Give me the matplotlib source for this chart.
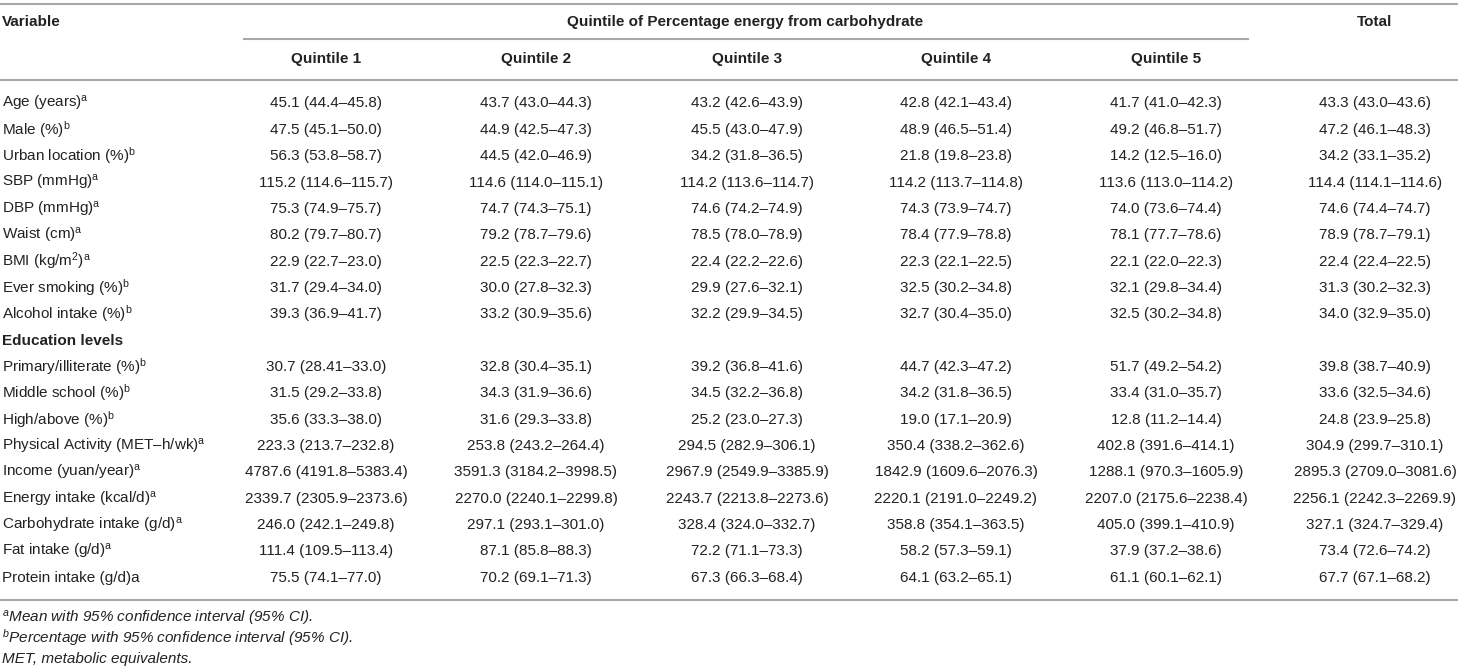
import matplotlib.pyplot as plt

plt.rcParams['font.family'] = ['Liberation Sans', 'DejaVu Sans']
plt.rcParams['mathtext.fontset'] = 'custom'
plt.rcParams['mathtext.rm'] = 'Liberation Sans'
plt.rcParams['mathtext.it'] = 'Liberation Sans:italic'
plt.rcParams['mathtext.bf'] = 'Liberation Sans:bold'

# Table content
variables = ["Age (years)", "Male (%)", "Urban location (%)", "SBP (mmHg)", "DBP (mmHg)",
             "Waist (cm)", r"BMI (kg/m$^{\mathrm{2}}$)", "Ever smoking (%)", "Alcohol intake (%)",
             "Education levels", "Primary/illiterate (%)", "Middle school (%)", "High/above (%)",
             "Physical Activity (MET\u2013h/wk)", "Income (yuan/year)", "Energy intake (kcal/d)",
             "Carbohydrate intake (g/d)", "Fat intake (g/d)", "Protein intake (g/d)a"]
marks = ["a", "b", "b", "a", "a", "a", "a", "b", "b", "", "b", "b", "b", "a", "a", "a", "a", "a", ""]

q1 = ["45.1 (44.4–45.8)", "47.5 (45.1–50.0)", "56.3 (53.8–58.7)", "115.2 (114.6–115.7)",
      "75.3 (74.9–75.7)", "80.2 (79.7–80.7)", "22.9 (22.7–23.0)", "31.7 (29.4–34.0)",
      "39.3 (36.9–41.7)", "", "30.7 (28.41–33.0)", "31.5 (29.2–33.8)", "35.6 (33.3–38.0)",
      "223.3 (213.7–232.8)", "4787.6 (4191.8–5383.4)", "2339.7 (2305.9–2373.6)",
      "246.0 (242.1–249.8)", "111.4 (109.5–113.4)", "75.5 (74.1–77.0)"]
q2 = ["43.7 (43.0–44.3)", "44.9 (42.5–47.3)", "44.5 (42.0–46.9)", "114.6 (114.0–115.1)",
      "74.7 (74.3–75.1)", "79.2 (78.7–79.6)", "22.5 (22.3–22.7)", "30.0 (27.8–32.3)",
      "33.2 (30.9–35.6)", "", "32.8 (30.4–35.1)", "34.3 (31.9–36.6)", "31.6 (29.3–33.8)",
      "253.8 (243.2–264.4)", "3591.3 (3184.2–3998.5)", "2270.0 (2240.1–2299.8)",
      "297.1 (293.1–301.0)", "87.1 (85.8–88.3)", "70.2 (69.1–71.3)"]
q3 = ["43.2 (42.6–43.9)", "45.5 (43.0–47.9)", "34.2 (31.8–36.5)", "114.2 (113.6–114.7)",
      "74.6 (74.2–74.9)", "78.5 (78.0–78.9)", "22.4 (22.2–22.6)", "29.9 (27.6–32.1)",
      "32.2 (29.9–34.5)", "", "39.2 (36.8–41.6)", "34.5 (32.2–36.8)", "25.2 (23.0–27.3)",
      "294.5 (282.9–306.1)", "2967.9 (2549.9–3385.9)", "2243.7 (2213.8–2273.6)",
      "328.4 (324.0–332.7)", "72.2 (71.1–73.3)", "67.3 (66.3–68.4)"]
q4 = ["42.8 (42.1–43.4)", "48.9 (46.5–51.4)", "21.8 (19.8–23.8)", "114.2 (113.7–114.8)",
      "74.3 (73.9–74.7)", "78.4 (77.9–78.8)", "22.3 (22.1–22.5)", "32.5 (30.2–34.8)",
      "32.7 (30.4–35.0)", "", "44.7 (42.3–47.2)", "34.2 (31.8–36.5)", "19.0 (17.1–20.9)",
      "350.4 (338.2–362.6)", "1842.9 (1609.6–2076.3)", "2220.1 (2191.0–2249.2)",
      "358.8 (354.1–363.5)", "58.2 (57.3–59.1)", "64.1 (63.2–65.1)"]
q5 = ["41.7 (41.0–42.3)", "49.2 (46.8–51.7)", "14.2 (12.5–16.0)", "113.6 (113.0–114.2)",
      "74.0 (73.6–74.4)", "78.1 (77.7–78.6)", "22.1 (22.0–22.3)", "32.1 (29.8–34.4)",
      "32.5 (30.2–34.8)", "", "51.7 (49.2–54.2)", "33.4 (31.0–35.7)", "12.8 (11.2–14.4)",
      "402.8 (391.6–414.1)", "1288.1 (970.3–1605.9)", "2207.0 (2175.6–2238.4)",
      "405.0 (399.1–410.9)", "37.9 (37.2–38.6)", "61.1 (60.1–62.1)"]
total = ["43.3 (43.0–43.6)", "47.2 (46.1–48.3)", "34.2 (33.1–35.2)", "114.4 (114.1–114.6)",
         "74.6 (74.4–74.7)", "78.9 (78.7–79.1)", "22.4 (22.4–22.5)", "31.3 (30.2–32.3)",
         "34.0 (32.9–35.0)", "", "39.8 (38.7–40.9)", "33.6 (32.5–34.6)", "24.8 (23.9–25.8)",
         "304.9 (299.7–310.1)", "2895.3 (2709.0–3081.6)", "2256.1 (2242.3–2269.9)",
         "327.1 (324.7–329.4)", "73.4 (72.6–74.2)", "67.7 (67.1–68.2)"]

col_names = ["Quintile 1", "Quintile 2", "Quintile 3", "Quintile 4", "Quintile 5"]
footnotes = [("a", "Mean with 95% confidence interval (95% CI)."),
             ("b", "Percentage with 95% confidence interval (95% CI)."),
             ("", "MET, metabolic equivalents.")]

# layout (pixel coords)
W, H = 1458, 667
col_x = [326, 536, 747, 956, 1166, 1375]
row_y0, row_dy = 103.5, 26.35
txt = '#222222'
line_c = '#a8a8a8'
fs = 11

fig = plt.figure(figsize=(W / 100, H / 100), dpi=100)
ax = fig.add_axes([0, 0, 1, 1])
ax.set_xlim(0, W)
ax.set_ylim(H, 0)
ax.axis('off')

# rules
ax.plot([0, W], [3.5, 3.5], color=line_c, lw=1.5)
ax.plot([244, 1248], [39, 39], color=line_c, lw=1.5)
ax.plot([0, W], [80, 80], color=line_c, lw=1.5)
ax.plot([0, W], [600, 600], color=line_c, lw=1.5)

# header
ax.text(2, 22, "Variable", ha='left', va='center', fontsize=fs, fontweight='bold', color=txt)
ax.text(745, 22, "Quintile of Percentage energy from carbohydrate", ha='center', va='center',
        fontsize=fs, fontweight='bold', color=txt)
ax.text(col_x[5], 22, "Total", ha='center', va='center', fontsize=fs, fontweight='bold', color=txt)
for x, name in zip(col_x[:5], col_names):
    ax.text(x, 59, name, ha='center', va='center', fontsize=fs, fontweight='bold', color=txt)

# body
columns = [q1, q2, q3, q4, q5, total]
for i, (var, mk) in enumerate(zip(variables, marks)):
    y = row_y0 + i * row_dy
    bold = var == "Education levels"
    label = var + (r"$^{\mathrm{%s}}$" % mk if mk else "")
    ax.text(2, y, label, ha='left', va='baseline', fontsize=fs, color=txt,
            fontweight='bold' if bold else 'normal',
            transform=ax.transData + plt.matplotlib.transforms.ScaledTranslation(0, -4.5 / 100, fig.dpi_scale_trans))
    for x, col in zip(col_x, columns):
        if col[i]:
            ax.text(x, y, col[i], ha='center', va='center', fontsize=fs, color=txt)

# footnotes
for j, (mk, note) in enumerate(footnotes):
    y = 618 + j * 20
    s = (r"$^{\mathit{%s}}$" % mk if mk else "") + note
    ax.text(2, y + 4.5, s, ha='left', va='baseline', fontsize=fs, style='italic', color=txt)

fig.savefig('out.png', dpi=100)
